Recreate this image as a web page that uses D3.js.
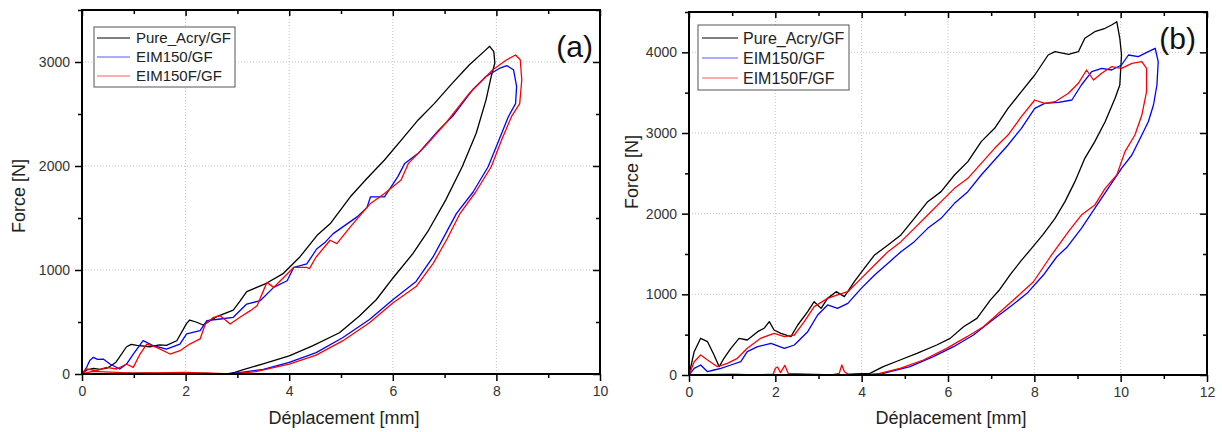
<!DOCTYPE html>
<html><head><meta charset="utf-8">
<script src="https://cdn.jsdelivr.net/npm/d3@7"></script>
<style>
body{margin:0;background:#fff}
svg{display:block;font-family:"Liberation Sans",Arial,sans-serif}
</style>
</head><body>
<svg id="c" width="1222" height="432"></svg>
<script>
// ---------- data ----------
const seriesNames = ["Pure_Acry/GF", "EIM150/GF", "EIM150F/GF"];
const panelLabels = ["(a)", "(b)"];
const xTitle = "Déplacement [mm]";
const yTitle = "Force [N]";

const aXTicks = [0, 2, 4, 6, 8, 10];
const aXMinor = [1, 3, 5, 7, 9];
const aYTicks = [0, 1000, 2000, 3000];
const aYMinor = [500, 1500, 2500, 3500];
const bXTicks = [0, 2, 4, 6, 8, 10, 12];
const bXMinor = [1, 3, 5, 7, 9, 11];
const bYTicks = [0, 1000, 2000, 3000, 4000];
const bYMinor = [500, 1500, 2500, 3500, 4500];

// panel (a): [displacement mm, force N]
const aPure = [[0,0],[0.1,40],[0.22,55],[0.35,45],[0.5,60],[0.65,110],[0.86,262],[0.95,285],[1.06,276],[1.31,262],[1.5,280],[1.63,276],[1.83,320],[2.02,487],[2.08,519],[2.2,500],[2.34,471],[2.6,551],[2.92,615],[3.05,700],[3.18,792],[3.56,872],[3.89,968],[4.21,1128],[4.55,1340],[4.8,1450],[5.18,1704],[5.5,1880],[5.84,2058],[6.2,2270],[6.49,2443],[6.8,2600],[7.15,2797],[7.48,2974],[7.8,3119],[7.87,3151],[7.95,3100],[7.97,2990],
  [7.9,2861],[7.8,2636],[7.61,2315],[7.34,1993],[7.02,1672],[6.69,1382],[6.39,1159],[6.0,921],[5.68,714],[5.35,556],[4.97,397],[4.45,270],[4.0,175],[3.48,95],[3.1,40],[2.95,15],[2.8,0],[2.4,6],[1.8,3],[1.2,8],[0.6,4],[0,0]];
const aEim = [[0,0],[0.09,64],[0.15,130],[0.22,160],[0.3,140],[0.41,144],[0.54,96],[0.73,48],[0.86,96],[0.99,192],[1.18,321],[1.38,272],[1.63,240],[1.89,288],[2.02,385],[2.28,417],[2.41,513],[2.67,529],[2.92,545],[3.18,673],[3.44,705],[3.7,833],[3.96,897],[4.09,1026],[4.34,1058],[4.53,1202],[4.7,1270],[4.85,1350],[5.31,1511],[5.5,1600],[5.57,1704],[5.84,1704],[6.1,1900],[6.23,2025],[6.49,2122],[6.89,2347],[7.15,2476],[7.54,2733],[7.8,2861],[8.07,2942],[8.2,2965],[8.33,2926],
  [8.39,2765],[8.37,2600],[8.23,2474],[8.05,2250],[7.84,1993],[7.55,1750],[7.23,1545],[7.0,1330],[6.78,1128],[6.45,890],[6.0,714],[5.55,524],[5.03,349],[4.52,206],[4.0,111],[3.5,45],[3.0,10],[2.85,0],[2.2,5],[1.5,3],[0.8,5],[0,0]];
const aEimF = [[0,0],[0.09,48],[0.28,32],[0.47,64],[0.67,48],[0.86,96],[0.99,64],[1.12,192],[1.25,288],[1.44,256],[1.7,192],[1.89,224],[2.08,288],[2.28,337],[2.38,481],[2.54,545],[2.67,561],[2.86,481],[3.05,545],[3.25,609],[3.38,657],[3.57,881],[3.7,833],[3.83,897],[4.09,1026],[4.34,1026],[4.39,1013],[4.52,1125],[4.79,1286],[4.92,1254],[5.18,1415],[5.57,1640],[5.84,1736],[6.16,1865],[6.3,2025],[6.62,2186],[7.02,2411],[7.48,2700],[7.93,2926],[8.2,3022],[8.37,3067],[8.46,3022],
  [8.49,2829],[8.45,2600],[8.29,2474],[8.1,2250],[7.9,1993],[7.6,1750],[7.3,1545],[7.05,1300],[6.78,1064],[6.45,841],[6.0,683],[5.55,492],[5.03,318],[4.52,181],[4.0,95],[3.35,22],[3.0,5],[2.9,0],[2.0,15],[1.0,8],[0.2,25],[0,0]];

// panel (b)
const bPure = [[0,0],[0.12,289],[0.27,455],[0.43,413],[0.58,248],[0.7,103],[0.81,207],[0.97,331],[1.16,455],[1.35,434],[1.59,537],[1.74,579],[1.86,661],[1.97,558],[2.13,517],[2.36,475],[2.52,620],[2.75,785],[2.9,909],[3.06,826],[3.21,950],[3.41,1033],[3.6,971],[3.83,1157],[4.06,1322],[4.3,1488],[4.61,1612],[4.91,1736],[5.22,1942],[5.53,2149],[5.84,2273],[6.15,2479],[6.46,2645],[6.77,2893],[7.08,3058],[7.39,3306],[7.7,3512],[8.01,3719],[8.32,3967],[8.48,4008],[8.79,3975],[9.02,4008],[9.17,4174],[9.4,4256],[9.64,4298],[9.79,4339],[9.91,4380],[9.98,4174],[10.02,3967],
  [9.98,3595],[9.87,3430],[9.64,3140],[9.4,2893],[9.17,2686],[8.94,2397],[8.71,2149],[8.48,1942],[8.2,1740],[7.95,1580],[7.7,1420],[7.45,1250],[7.2,1060],[6.98,929],[6.67,702],[6.36,599],[6.05,454],[5.74,372],[5.28,268],[4.89,186],[4.5,103],[4.19,21],[3.83,15],[3.52,0],[2.5,5],[1.5,5],[0.8,5],[0,0]];
const bEim = [[0,0],[0.12,83],[0.27,124],[0.43,41],[0.58,62],[0.74,83],[0.97,124],[1.2,165],[1.35,289],[1.59,351],[1.9,393],[2.21,331],[2.44,372],[2.75,537],[2.98,744],[3.21,868],[3.44,826],[3.68,888],[3.99,1074],[4.3,1240],[4.61,1384],[4.91,1529],[5.22,1653],[5.53,1818],[5.84,1942],[6.15,2128],[6.46,2273],[6.77,2479],[7.08,2665],[7.39,2851],[7.7,3058],[8.01,3306],[8.24,3368],[8.56,3380],[8.87,3409],[9.09,3595],[9.33,3760],[9.56,3802],[9.79,3781],[10.02,3843],[10.18,3967],[10.41,3946],[10.64,4008],[10.8,4050],[10.87,3884],
  [10.84,3595],[10.76,3347],[10.64,3140],[10.49,2975],[10.26,2727],[10.02,2562],[9.71,2314],[9.4,2066],[9.09,1818],[8.75,1580],[8.52,1466],[8.21,1239],[7.83,1012],[7.44,847],[6.98,661],[6.59,496],[6.13,351],[5.66,227],[5.12,103],[4.5,21],[4.06,0],[3.0,5],[2.0,0],[1.0,5],[0,0]];
const bEimF = [[0,0],[0.12,165],[0.27,248],[0.43,186],[0.66,103],[0.89,145],[1.12,207],[1.35,331],[1.66,455],[1.97,517],[2.21,475],[2.44,496],[2.67,661],[2.9,847],[3.21,950],[3.44,992],[3.68,1033],[3.99,1198],[4.3,1364],[4.61,1529],[4.91,1653],[5.22,1818],[5.53,1983],[5.84,2149],[6.15,2314],[6.46,2438],[6.77,2624],[7.08,2810],[7.39,2975],[7.7,3202],[8.01,3409],[8.24,3368],[8.48,3388],[8.79,3492],[9.02,3616],[9.21,3781],[9.37,3657],[9.56,3740],[9.79,3822],[10.02,3802],[10.26,3864],[10.49,3884],[10.6,3802],
  [10.6,3512],[10.49,3223],[10.33,2975],[10.1,2769],[9.91,2479],[9.64,2314],[9.4,2107],[9.09,1983],[8.79,1777],[8.37,1466],[7.98,1156],[7.6,970],[7.21,785],[6.82,599],[6.44,475],[5.97,330],[5.43,186],[4.89,83],[4.35,12],[4.14,0],[3.7,5],[3.6,40],[3.54,124],[3.48,20],[3.3,0],[2.3,20],[2.22,120],[2.12,30],[2.05,100],[2.0,83],[1.95,10],[1.5,0],[1.0,10],[0,0]];

// ---------- drawing ----------
const svg = d3.select("#c");
const colors = ["#000000", "#0000ff", "#ff0000"];

function drawPanel(cfg) {
  const x = d3.scaleLinear().domain(cfg.xDomain).range([cfg.left, cfg.right]);
  const y = d3.scaleLinear().domain(cfg.yDomain).range([cfg.bottom, cfg.top]);
  const g = svg.append("g");

  // grid
  const grid = g.append("g").attr("stroke", "#c4c4c4").attr("stroke-width", 1).attr("stroke-dasharray", "1,2");
  cfg.xTicks.filter(v => v > cfg.xDomain[0] && v < cfg.xDomain[1]).forEach(v => {
    grid.append("line").attr("x1", x(v)).attr("x2", x(v)).attr("y1", cfg.top).attr("y2", cfg.bottom);
  });
  cfg.yTicks.filter(v => v > cfg.yDomain[0] && v < cfg.yDomain[1]).forEach(v => {
    grid.append("line").attr("x1", cfg.left).attr("x2", cfg.right).attr("y1", y(v)).attr("y2", y(v));
  });

  // series
  const line = d3.line().x(d => x(d[0])).y(d => y(d[1]));
  cfg.series.forEach((s, i) => {
    g.append("path").datum(s).attr("d", line).attr("fill", "none")
      .attr("stroke", colors[i]).attr("stroke-width", 1.3).attr("stroke-linejoin", "round");
  });

  // axes
  const fs = "14px";
  function styleAxis(sel) {
    sel.select(".domain").remove();
    sel.selectAll(".tick line").attr("stroke", "#000").attr("stroke-width", 1.5);
    sel.selectAll(".tick text").attr("fill", "#333").style("font-size", fs).style("font-family", '"Liberation Sans",Arial,sans-serif');
  }
  g.append("g").attr("transform", `translate(0,${cfg.bottom})`)
    .call(d3.axisBottom(x).tickValues(cfg.xTicks).tickSize(7).tickPadding(5).tickFormat(d3.format("d"))).call(styleAxis);
  g.append("g").attr("transform", `translate(0,${cfg.bottom})`)
    .call(d3.axisBottom(x).tickValues(cfg.xMinor).tickSize(4).tickFormat("")).call(styleAxis);
  g.append("g").attr("transform", `translate(${cfg.left},0)`)
    .call(d3.axisLeft(y).tickValues(cfg.yTicks).tickSize(7).tickPadding(5).tickFormat(d3.format("d"))).call(styleAxis);
  g.append("g").attr("transform", `translate(${cfg.left},0)`)
    .call(d3.axisLeft(y).tickValues(cfg.yMinor.filter(v => v <= cfg.yDomain[1])).tickSize(4).tickFormat("")).call(styleAxis);
  // mirrored inward ticks
  g.append("g").attr("transform", `translate(0,${cfg.top})`)
    .call(d3.axisTop(x).tickValues(cfg.xTicks).tickSize(-6).tickFormat("")).call(styleAxis);
  g.append("g").attr("transform", `translate(0,${cfg.top})`)
    .call(d3.axisTop(x).tickValues(cfg.xMinor).tickSize(-4).tickFormat("")).call(styleAxis);
  g.append("g").attr("transform", `translate(${cfg.right},0)`)
    .call(d3.axisRight(y).tickValues(cfg.yTicks).tickSize(-7).tickFormat("")).call(styleAxis);
  g.append("g").attr("transform", `translate(${cfg.right},0)`)
    .call(d3.axisRight(y).tickValues(cfg.yMinor.filter(v => v <= cfg.yDomain[1])).tickSize(-4).tickFormat("")).call(styleAxis);

  // frame
  g.append("rect").attr("x", cfg.left).attr("y", cfg.top)
    .attr("width", cfg.right - cfg.left).attr("height", cfg.bottom - cfg.top)
    .attr("fill", "none").attr("stroke", "#000").attr("stroke-width", 2);

  // titles
  g.append("text").attr("x", (cfg.left + cfg.right) / 2 + 3).attr("y", 424)
    .attr("text-anchor", "middle").attr("fill", "#222").style("font-size", "18px").text(xTitle);
  g.append("text").attr("transform", `translate(${cfg.yTitleX},${cfg.yTitleY}) rotate(-90)`)
    .attr("text-anchor", "middle").attr("fill", "#222").style("font-size", "18px").text(yTitle);

  // panel label
  g.append("text").attr("x", cfg.labelX).attr("y", cfg.labelY).attr("text-anchor", "end")
    .attr("fill", "#111").style("font-size", "30px").text(cfg.label);

  // legend
  const L = cfg.legend;
  g.append("rect").attr("x", L.x0).attr("y", L.y0).attr("width", L.x1 - L.x0).attr("height", L.y1 - L.y0)
    .attr("fill", "#fff").attr("stroke", "#555").attr("stroke-width", 1);
  seriesNames.forEach((n, i) => {
    const yy = L.rows[i];
    g.append("line").attr("x1", L.lx0).attr("x2", L.lx1).attr("y1", yy).attr("y2", yy)
      .attr("stroke", colors[i]).attr("stroke-width", 1).attr("opacity", i === 0 ? 1 : 0.65);
    g.append("text").attr("x", L.tx).attr("y", yy).attr("dy", "0.35em")
      .attr("fill", "#222").style("font-size", L.fs).text(n);
  });
}

drawPanel({
  left: 82, right: 600, top: 10, bottom: 374,
  xDomain: [0, 10], yDomain: [0, 3500],
  xTicks: aXTicks, xMinor: aXMinor, yTicks: aYTicks, yMinor: aYMinor,
  series: [aPure, aEim, aEimF],
  yTitleX: 25, yTitleY: 196,
  label: panelLabels[0], labelX: 593, labelY: 57,
  legend: {x0: 94, x1: 235, y0: 27, y1: 87, lx0: 97, lx1: 130, tx: 136, rows: [38, 57, 76], fs: "15px"}
});
drawPanel({
  left: 689, right: 1207, top: 12, bottom: 375,
  xDomain: [0, 12], yDomain: [0, 4500],
  xTicks: bXTicks, xMinor: bXMinor, yTicks: bYTicks, yMinor: bYMinor,
  series: [bPure, bEim, bEimF],
  yTitleX: 638, yTitleY: 172,
  label: panelLabels[1], labelX: 1196, labelY: 49,
  legend: {x0: 698, x1: 849, y0: 25, y1: 90, lx0: 702, lx1: 738, tx: 743, rows: [38, 58, 78], fs: "16px"}
});
</script>
</body></html>
